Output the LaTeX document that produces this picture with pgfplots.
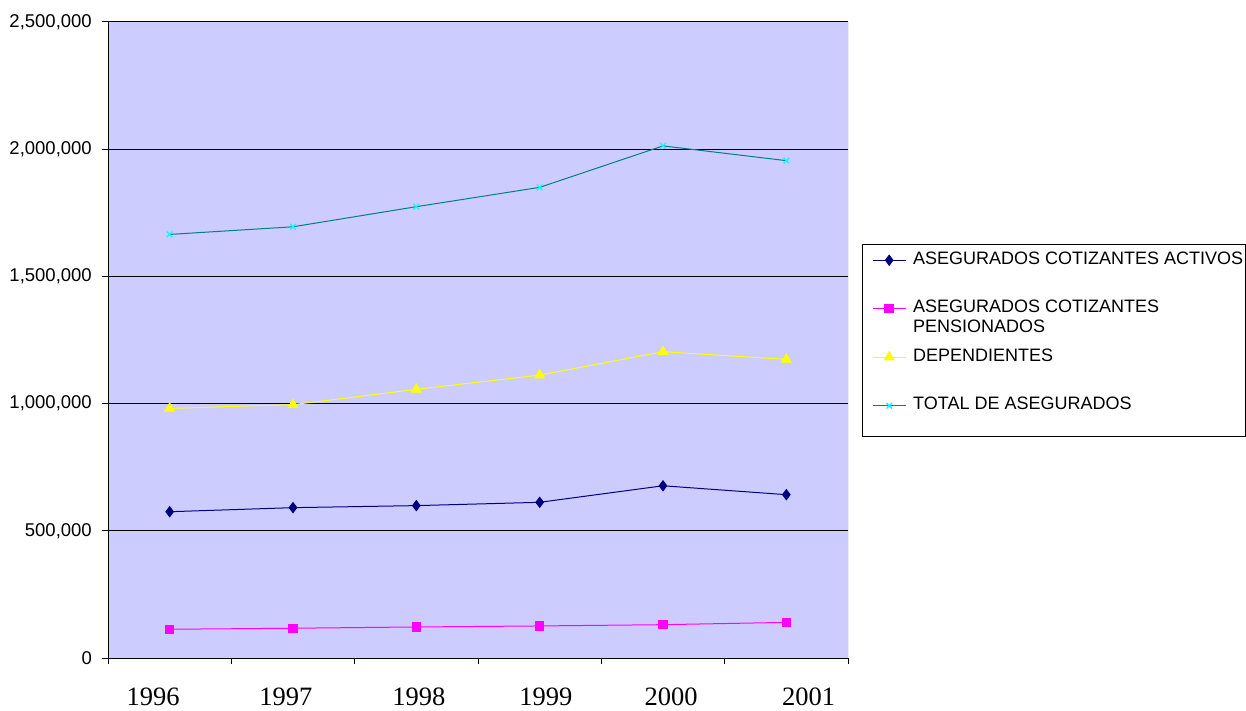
\documentclass[border=0pt]{standalone}
\usepackage{fontspec}
\setmainfont{Liberation Sans}
\newfontfamily\timesf{Liberation Serif}
\usepackage{pgfplots}
\pgfplotsset{compat=1.18}

\definecolor{plotbg}{RGB}{204,204,255}
\definecolor{activos}{RGB}{0,0,128}
\definecolor{pension}{RGB}{255,0,255}
\definecolor{depend}{RGB}{255,255,0}
\definecolor{totalline}{RGB}{0,128,128}
\definecolor{totalmark}{RGB}{0,255,255}

\begin{document}
\begin{tikzpicture}
\useasboundingbox (0,0) rectangle (1246pt,710pt);
% legend frame (drawn first, the legend itself has no frame)
\filldraw[fill=white, draw=black, line width=0.8pt] (862pt,466pt) rectangle (1245pt,274pt);
\begin{axis}[
    at={(108pt,52pt)}, anchor=south west,
    width=740pt, height=636pt, scale only axis,
    xmin=-0.5, xmax=5.5,
    ymin=0, ymax=2500000,
    axis x line*=bottom, axis y line*=left,
    axis line style={black, line width=1pt, -},
    axis background/.style={fill=plotbg},
    xtick={-0.5,0.5,1.5,2.5,3.5,4.5,5.5},
    xticklabels={},
    ytick={0,500000,1000000,1500000,2000000,2500000},
    scaled y ticks=false,
    tick align=outside,
    major tick length=6pt,
    tick style={black, line width=1pt},
    ymajorgrids,
    grid style={black, line width=1pt},
    yticklabel style={font=\fontsize{18.5}{21}\selectfont, anchor=east, inner sep=0pt, xshift=-10pt},
    /pgf/number format/.cd, fixed, precision=0, 1000 sep={,}, assume math mode=true,
    /pgfplots/.cd,
    extra x ticks={-0.135,0.943,2.02,3.05,4.065,5.18},
    extra x tick labels={1996,1997,1998,1999,2000,2001},
    extra x tick style={major tick length=0pt,
        tick label style={font=\timesf\fontsize{26.5}{30}\selectfont, anchor=base, yshift=-47.5pt}},
    every axis plot/.append style={line width=1pt},
    legend style={
        at={(axis description cs:1.0189,0.6509)}, anchor=north west,
        draw=none, fill=none,
        inner xsep=10pt, inner ysep=7.75pt,
        row sep=32pt, column sep=7pt,
        nodes={inner sep=0pt, text height=12.5pt, text depth=4pt, font=\fontsize{18}{21}\selectfont},
    },
    legend cell align=left,
    legend image code/.code={
        \draw[mark repeat=2, mark phase=2] plot coordinates {(0pt,0pt) (16.5pt,0pt) (33pt,0pt)};
    },
]

\addplot[color=activos, mark=diamond*, mark size=5pt, mark options={fill=activos}] coordinates {
    (0,575000) (1,591000) (2,599000) (3,612000) (4,677000) (5,642000)
};
\addlegendentry{ASEGURADOS COTIZANTES ACTIVOS}

\addplot[color=pension, mark=square*, mark size=4.2pt, mark options={fill=pension}] coordinates {
    (0,113000) (1,117000) (2,122000) (3,126000) (4,131000) (5,140000)
};
\addlegendentry{\makebox[0pt][l]{\raisebox{-20pt}[0pt][0pt]{PENSIONADOS}}ASEGURADOS COTIZANTES}

\addplot[color=depend, mark=triangle*, mark size=5.5pt, mark options={fill=depend}] coordinates {
    (0,981000) (1,996000) (2,1056000) (3,1112000) (4,1204000) (5,1174000)
};
\addlegendentry{DEPENDIENTES}

\addplot[color=totalline, mark=x, mark size=4pt, mark options={draw=totalmark, line width=1.2pt}] coordinates {
    (0,1665000) (1,1695000) (2,1774000) (3,1850000) (4,2013000) (5,1955000)
};
\addlegendentry{TOTAL DE ASEGURADOS}

\draw[gray, line width=1pt] (rel axis cs:1,0) -- (rel axis cs:1,1);
\end{axis}
\end{tikzpicture}
\end{document}
